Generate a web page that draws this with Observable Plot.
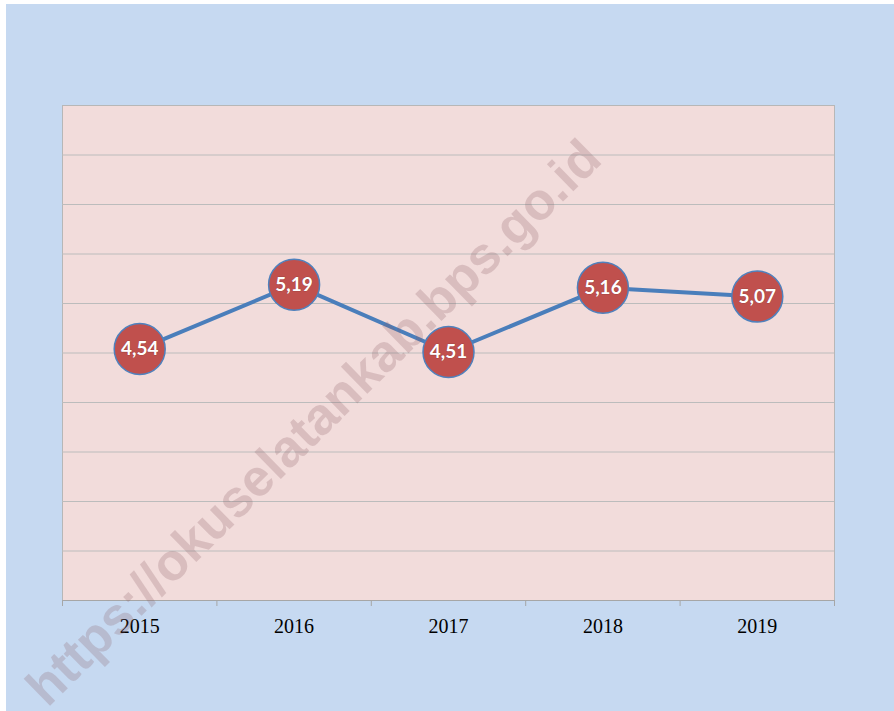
<!DOCTYPE html>
<html>
<head>
<meta charset="utf-8">
<script src="https://cdn.jsdelivr.net/npm/d3@7"></script>
<script src="https://cdn.jsdelivr.net/npm/@observablehq/plot@0.6"></script>
<style>
  html, body { margin: 0; padding: 0; background: #ffffff; }
  #wrap { position: absolute; left: 6px; top: 4px; width: 888px; height: 707px; background: #c6d9f1; overflow: hidden; }
  #wm { position: absolute; left: 307px; top: 418px; transform: translate(-50%, -50%) rotate(-44.5deg);
        font-family: "Liberation Sans", Arial, sans-serif; font-weight: bold; font-size: 52px;
        color: rgba(140, 90, 100, 0.24); white-space: nowrap; pointer-events: none; }
</style>
</head>
<body>
<div id="wrap"><div id="chart"></div><div id="wm">https://okuselatankab.bps.go.id</div></div>
<script>
const years = [2015, 2016, 2017, 2018, 2019];
const values = [4.54, 5.19, 4.51, 5.16, 5.07];
const yDomain = [2, 7];
const gridStep = 0.5;

const data = years.map((year, i) => ({year, value: values[i]}));
const boundaries = [years[0] - 0.5, ...years.map(y => y + 0.5)];
const gridTicks = d3.range(yDomain[0] + gridStep, yDomain[1] - gridStep / 2, gridStep);
const fmt = v => v.toFixed(2).replace(".", ",");

const chart = Plot.plot({
  width: 888,
  height: 707,
  marginLeft: 56,
  marginRight: 60,
  marginTop: 101,
  marginBottom: 111,
  style: { background: "transparent", overflow: "visible" },
  x: { domain: [boundaries[0], boundaries[boundaries.length - 1]], label: null },
  y: { domain: yDomain, label: null, axis: null },
  marks: [
    Plot.frame({ fill: "#f2dcdb", stroke: "#b7b7b7", strokeWidth: 1 }),
    Plot.gridY(gridTicks, { stroke: "#bcbcbc", strokeOpacity: 1, strokeWidth: 1 }),
    Plot.ruleY([yDomain[0]], { stroke: "#a6a6a6", strokeWidth: 1.2 }),
    Plot.axisX(boundaries, { tickSize: 6, stroke: "#a6a6a6", tickFormat: () => "", label: null }),
    Plot.axisX(years, { tickSize: 0, tickPadding: 18, tickFormat: d => String(d), label: null,
      fontSize: 20, fontFamily: "Liberation Serif, DejaVu Serif, serif", fill: "#000" }),
    Plot.line(data, { x: "year", y: "value", stroke: "#4a7ebb", strokeWidth: 4 }),
    Plot.dot(data, { x: "year", y: "value", r: 25.5, fill: "#c0504d", stroke: "#4f81bd", strokeWidth: 1.5 }),
    Plot.text(data, { x: "year", y: "value", text: d => fmt(d.value), fill: "#ffffff",
      fontSize: 19, fontWeight: "bold", fontFamily: "Lato, Open Sans, sans-serif",
      stroke: "#8a3a38", strokeWidth: 0.6 })
  ]
});
document.getElementById("chart").appendChild(chart);
</script>
</body>
</html>
